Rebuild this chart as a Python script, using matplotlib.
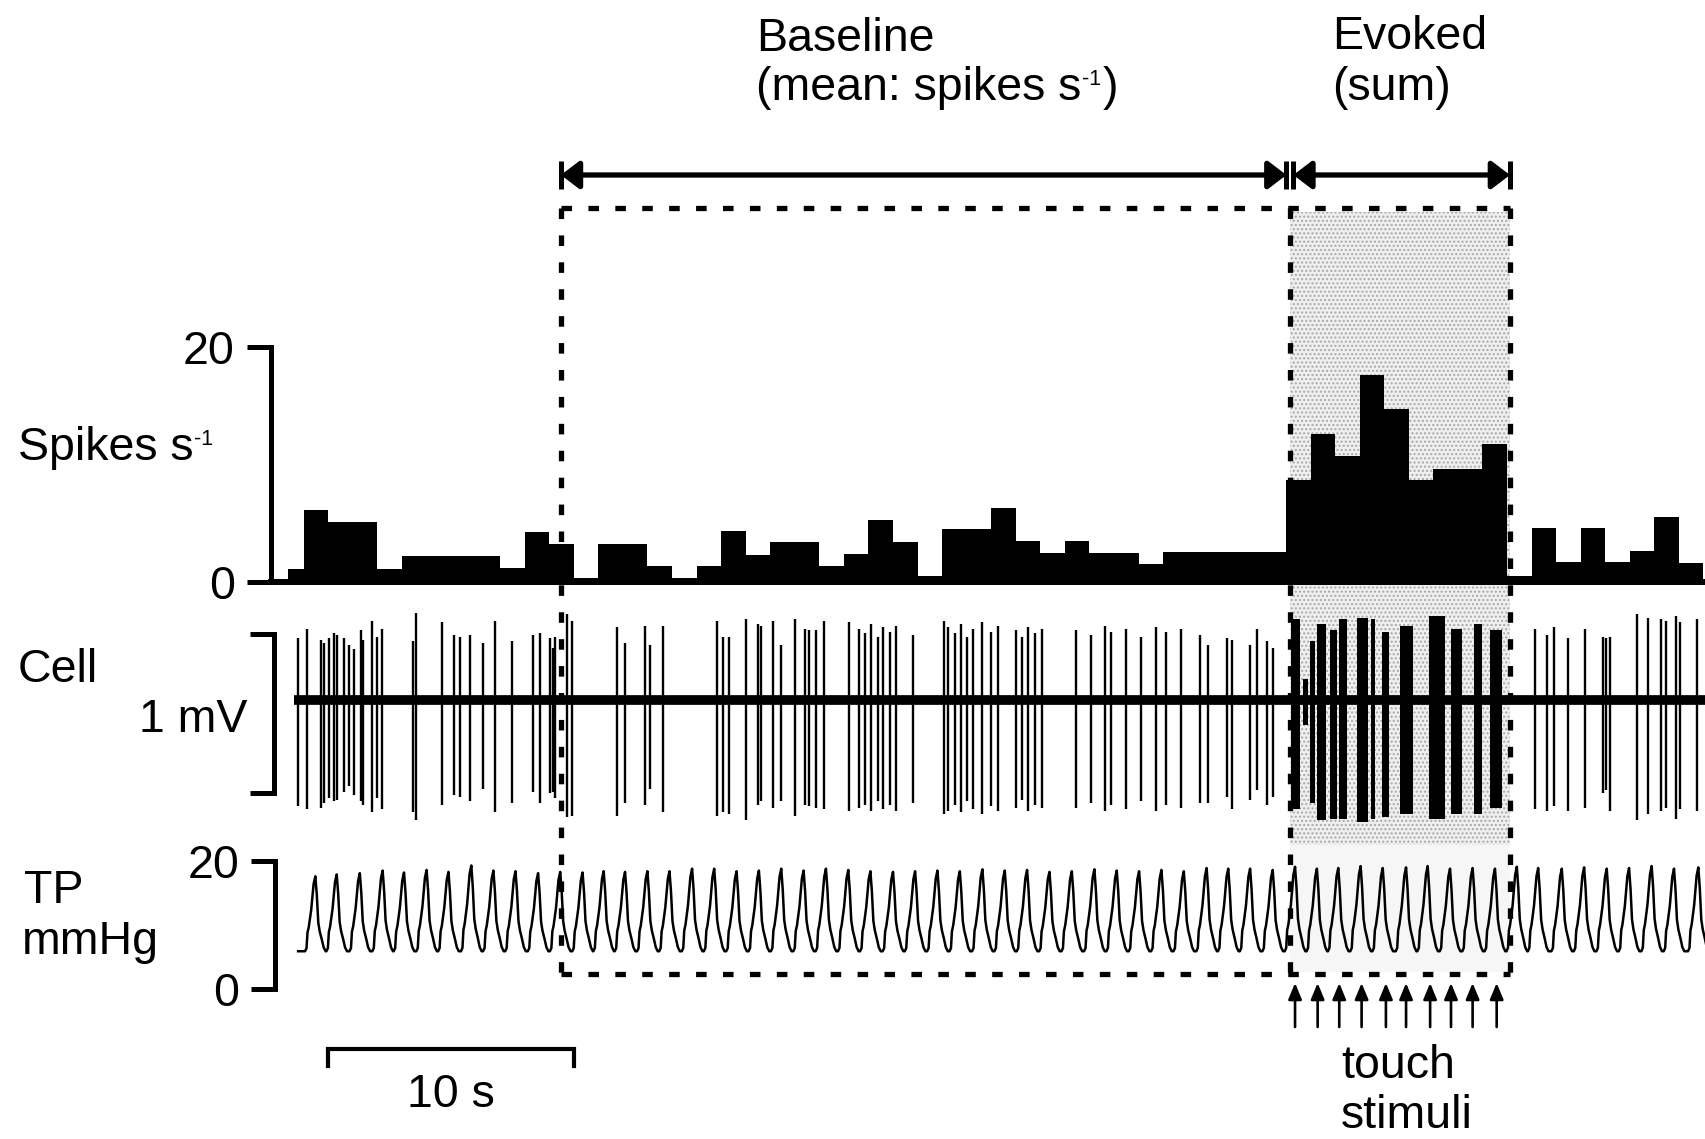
import numpy as np
import matplotlib
matplotlib.use('Agg')
import matplotlib.pyplot as plt

plt.rcParams['font.family'] = ['Liberation Sans', 'DejaVu Sans']
plt.rcParams['hatch.color'] = '#a8a8a8'
plt.rcParams['hatch.linewidth'] = 1.0

# ---------------------------------------------------------------- data
# firing rate, 1 s bins (the first bin starts late, at 0.35 s)
rate_start = 0.35
spike_rate = [1.1, 6.1, 5.05, 5.05, 1.1, 2.2, 2.2, 2.2, 2.2, 1.2,
              4.25, 3.25, 0.35, 3.25, 3.25, 1.3, 0.35, 1.3, 4.3, 2.3,
              3.4, 3.4, 1.35, 2.35, 5.25, 3.4, 0.5, 4.46, 4.46, 6.25,
              3.46, 2.47, 3.46, 2.47, 2.47, 1.48, 2.55, 2.55, 2.55, 2.55,
              2.55, 8.65, 12.6, 10.7, 17.6, 14.7, 8.65, 9.57, 9.57, 11.7,
              0.5, 4.6, 1.65, 4.6, 1.65, 2.6, 5.5, 1.6]

# single units outside the touch bursts (s, mV above / below baseline)
spike_times = [0.79, 1.12, 1.69, 1.84, 2.03, 2.23, 2.38, 2.64, 2.83, 3.04,
               3.34, 3.42, 3.79, 3.98, 4.20, 5.44, 5.59, 6.64, 7.11, 7.35,
               7.76, 8.32, 8.81, 9.48, 10.35, 10.61, 11.04, 11.15, 11.24, 11.73,
               11.91, 13.78, 14.09, 14.91, 15.10, 15.65, 17.83, 18.09, 18.34, 19.00,
               19.50, 19.62, 20.12, 20.45, 20.99, 21.41, 21.60, 21.88, 22.19, 23.20,
               23.62, 23.84, 24.10, 24.37, 24.59, 24.86, 25.12, 25.83, 27.07, 27.25,
               27.51, 27.78, 28.00, 28.27, 28.62, 28.97, 29.28, 29.99, 30.26, 30.48,
               30.79, 31.05, 32.47, 33.05, 33.62, 33.89, 34.47, 35.09, 35.70, 36.10,
               36.72, 37.48, 37.84, 38.59, 38.82, 39.54, 39.83, 40.22, 40.46,
               51.14, 51.62, 51.93, 52.50, 53.18, 53.90, 54.03, 54.19, 55.28, 55.75,
               56.26, 56.46, 56.88, 57.04, 57.72]
spike_peaks = [0.39, 0.45, 0.38, 0.36, 0.39, 0.42, 0.41, 0.39, 0.35, 0.32,
               0.44, 0.38, 0.50, 0.40, 0.45, 0.37, 0.55, 0.49, 0.41, 0.40,
               0.41, 0.36, 0.50, 0.37, 0.41, 0.42, 0.39, 0.33, 0.40, 0.54,
               0.50, 0.46, 0.36, 0.47, 0.35, 0.47, 0.50, 0.40, 0.40, 0.51,
               0.48, 0.47, 0.50, 0.35, 0.51, 0.45, 0.44, 0.44, 0.50, 0.49,
               0.45, 0.42, 0.48, 0.40, 0.46, 0.43, 0.47, 0.41, 0.50, 0.46,
               0.42, 0.48, 0.40, 0.45, 0.49, 0.43, 0.47, 0.44, 0.40, 0.46,
               0.42, 0.45, 0.44, 0.41, 0.47, 0.43, 0.45, 0.40, 0.46, 0.43,
               0.45, 0.41, 0.35, 0.39, 0.38, 0.35, 0.45, 0.37, 0.33,
               0.45, 0.41, 0.46, 0.39, 0.45, 0.40, 0.39, 0.40, 0.54, 0.52,
               0.51, 0.50, 0.53, 0.49, 0.51]
spike_troughs = [-0.67, -0.69, -0.68, -0.65, -0.62, -0.64, -0.63, -0.58, -0.54, -0.60,
                 -0.64, -0.66, -0.71, -0.62, -0.69, -0.71, -0.76, -0.66, -0.60, -0.61,
                 -0.64, -0.56, -0.71, -0.65, -0.58, -0.65, -0.59, -0.58, -0.62, -0.74,
                 -0.73, -0.73, -0.65, -0.66, -0.56, -0.71, -0.73, -0.71, -0.72, -0.76,
                 -0.66, -0.64, -0.68, -0.64, -0.73, -0.66, -0.67, -0.68, -0.69, -0.70,
                 -0.68, -0.66, -0.70, -0.64, -0.69, -0.66, -0.70, -0.65, -0.72, -0.70,
                 -0.66, -0.71, -0.64, -0.69, -0.72, -0.67, -0.70, -0.68, -0.63, -0.70,
                 -0.66, -0.68, -0.68, -0.65, -0.70, -0.66, -0.69, -0.64, -0.70, -0.66,
                 -0.68, -0.65, -0.65, -0.61, -0.69, -0.63, -0.57, -0.66, -0.61,
                 -0.69, -0.70, -0.67, -0.70, -0.68, -0.59, -0.57, -0.70, -0.76, -0.72,
                 -0.70, -0.68, -0.75, -0.69, -0.70]

# unresolved bursts during touch stimulation (s, mV)
burst_starts = [41.20, 41.69, 41.99, 42.27, 42.79, 43.17, 43.88,
                44.45, 44.90, 45.65, 46.82, 47.72, 48.67, 49.30]
burst_ends = [41.58, 41.90, 42.20, 42.61, 43.06, 43.47, 44.36,
              44.63, 45.21, 46.19, 47.48, 48.16, 48.97, 49.81]
burst_peaks = [0.51, 0.13, 0.37, 0.48, 0.44, 0.51, 0.52,
               0.51, 0.43, 0.47, 0.53, 0.45, 0.48, 0.44]
burst_troughs = [-0.69, -0.16, -0.65, -0.76, -0.75, -0.75, -0.77,
                 -0.75, -0.74, -0.72, -0.75, -0.72, -0.72, -0.68]

touch_times = [41.37, 42.29, 43.17, 44.08, 45.07, 45.89, 46.87, 47.72, 48.60, 49.58]

# tracheal pressure, one cycle per peak (mmHg)
tp_peak_times = [1.48, 2.35, 3.29, 4.22, 5.09, 6.01, 6.90, 7.83, 8.73, 9.63,
                 10.55, 11.45, 12.36, 13.22, 14.09, 15.00, 15.90, 16.82, 17.72, 18.63,
                 19.54, 20.45, 21.36, 22.27, 23.18, 24.08, 25.00, 25.90, 26.81, 27.72,
                 28.64, 29.55, 30.46, 31.37, 32.28, 33.20, 34.11, 35.02, 35.93, 36.84,
                 37.77, 38.65, 39.54, 40.46, 41.37, 42.26, 43.13, 44.04, 44.94, 45.89,
                 46.77, 47.68, 48.60, 49.51, 50.40, 51.27, 52.23, 53.14, 54.06, 54.97,
                 55.89, 56.80, 57.79]
tp_peak_values = [17.6, 17.9, 18.1, 18.5, 18.2, 18.6, 18.3, 19.3, 18.5, 18.4,
                  18.1, 18.3, 18.2, 18.4, 18.3, 18.4, 18.4, 18.8, 18.8, 18.4,
                  18.5, 18.8, 18.5, 18.8, 18.6, 18.4, 18.3, 18.4, 18.5, 18.4,
                  18.7, 18.5, 18.6, 18.3, 18.4, 18.7, 18.5, 18.4, 18.6, 18.4,
                  18.9, 18.8, 18.8, 18.6, 19.1, 18.8, 18.9, 19.2, 18.9, 19.0,
                  19.2, 18.8, 18.9, 18.8, 19.1, 18.9, 18.8, 19.0, 18.8, 18.9,
                  19.2, 18.8, 19.0]
tp_trough = 5.9
# shape of one ventilation cycle around its peak (s, fraction of peak-trough)
tp_shape_t = [-0.42, -0.36, -0.32, -0.27, -0.17, -0.07, 0.0, 0.06, 0.12, 0.18, 0.26, 0.34, 0.42]
tp_shape_v = [0.0, 0.04, 0.25, 0.32, 0.55, 0.90, 1.0, 0.75, 0.38, 0.26, 0.16, 0.05, 0.0]

trace_start = 0.6
baseline_window = (11.48, 41.16)
evoked_window = (41.16, 50.12)
scale_bar = (2.0, 12.0)

# ---------------------------------------------------------------- layout
W, H, DPI = 1705, 1139, 100
X0_PX, PX_PER_S = 279, 24.56          # pixel of t = 0, pixels per second
AX_LEFT = 271
T_MIN = (AX_LEFT - X0_PX) / PX_PER_S
T_MAX = (W - X0_PX) / PX_PER_S
FS = 33.5
FS_SUP = 15.5

fig = plt.figure(figsize=(W / DPI, H / DPI), dpi=DPI)


def band_axes(top, bottom):
    return fig.add_axes([AX_LEFT / W, 1 - bottom / H,
                         (W - AX_LEFT) / W, (bottom - top) / H])


def label(x, y, s, **kw):
    return fig.text(x / W, 1 - y / H, s, fontsize=FS, va='baseline', **kw)


# background layer, time on x and figure pixels on y
bg = fig.add_axes([0, 0, 1, 1], zorder=-1)
bg.set_xlim(-X0_PX / PX_PER_S, T_MAX)
bg.set_ylim(H, 0)
bg.axis('off')
e0, e1 = evoked_window
bg.fill_between([e0, e1], 212, 845, facecolor='#efefef',
                edgecolor='none', hatch='....', lw=0)
bg.fill_between([e0, e1], 845, 972, facecolor='#f6f6f6',
                edgecolor='none', lw=0)

# spike rate histogram
ax_h = band_axes(300, 600)
ax_h.set_ylim((581.7 - 600) / 11.75, (581.7 - 300) / 11.75)
edges = np.r_[rate_start, np.arange(1, len(spike_rate) + 1)]
ax_h.stairs(spike_rate, edges, fill=True, color='k', lw=0)
ax_h.set_yticks([0, 20])
ax_h.spines['left'].set_bounds(0, 20)
ax_h.spines['bottom'].set_position(('data', 0))
ax_h.spines['bottom'].set_linewidth(4.3)

# extracellular recording
ax_c = band_axes(600, 840)
ax_c.set_ylim(-140 / 158.4, 100 / 158.4)
ax_c.plot([trace_start, T_MAX], [0, 0], color='k', lw=7, solid_capstyle='butt')
ax_c.vlines(spike_times, spike_troughs, spike_peaks, color='k', lw=1.7)
b_start = np.array(burst_starts)
b_peak = np.array(burst_peaks)
b_trough = np.array(burst_troughs)
ax_c.bar(b_start, b_peak - b_trough, width=np.array(burst_ends) - b_start,
         bottom=b_trough, align='edge', color='k', lw=0)
ax_c.set_yticks([-0.585, 0.415])
ax_c.set_yticklabels([])
ax_c.spines['left'].set_bounds(-0.585, 0.415)
ax_c.spines['left'].set_position(('outward', -2))

# tracheal pressure
ax_t = band_axes(850, 1010)
ax_t.set_ylim(-21 / 6.4, 139 / 6.4)
tp_t, tp_v = [trace_start + 0.18], [tp_trough]
for pk_t, pk_v in zip(tp_peak_times, tp_peak_values):
    tp_t.extend(pk_t + np.array(tp_shape_t))
    tp_v.extend(tp_trough + np.array(tp_shape_v) * (pk_v - tp_trough))
ax_t.plot(tp_t, tp_v, color='k', lw=1.8)
ax_t.set_yticks([0, 20])
ax_t.spines['left'].set_bounds(0, 20)
ax_t.spines['left'].set_position(('outward', -3))

for ax in (ax_h, ax_c, ax_t):
    ax.set_xlim(T_MIN, T_MAX)
    ax.set_facecolor('none')
    for side in ('top', 'right'):
        ax.spines[side].set_visible(False)
    ax.spines['left'].set_linewidth(3.6)
    ax.set_xticks([])
    ax.tick_params(axis='y', length=17, width=3.6, pad=9, labelsize=FS)
ax_c.spines['bottom'].set_visible(False)
ax_t.spines['bottom'].set_visible(False)

# front layer: analysis windows, stimulus marks, scale bar
ov = fig.add_axes([0, 0, 1, 1], zorder=10)
ov.set_xlim(-X0_PX / PX_PER_S, T_MAX)
ov.set_ylim(H, 0)
ov.axis('off')

b0, b1 = baseline_window
dash = dict(color='k', lw=3.8, ls=(0, (2.0, 3.1)))
box_top, box_bottom = 208, 974
ov.plot([b0, e1], [box_top, box_top], **dash)
ov.plot([b0, e1], [box_bottom, box_bottom], **dash)
for x in (b0, b1, e1):
    ov.plot([x, x], [box_top, box_bottom], **dash)

gap = 3.5 / PX_PER_S
arrow_y = 175
for a, b in [(b0, b1 - gap), (e0 + gap, e1)]:
    ov.annotate('', xy=(b, arrow_y), xytext=(a, arrow_y),
                arrowprops=dict(arrowstyle='<|-|>,head_length=0.55,head_width=0.42',
                                mutation_scale=20, lw=3.8, color='k',
                                shrinkA=0, shrinkB=0))
    for x in (a, b):
        ov.plot([x, x], [161, 189], color='k', lw=3.6, solid_capstyle='butt')

for t in touch_times:
    ov.annotate('', xy=(t, 983), xytext=(t, 1027),
                arrowprops=dict(arrowstyle='-|>,head_length=0.65,head_width=0.27',
                                mutation_scale=15, lw=1.9, color='k',
                                shrinkA=0, shrinkB=0))

s0, s1 = scale_bar
ov.plot([s0, s0, s1, s1], [1066, 1049, 1049, 1066], color='k', lw=3,
        solid_joinstyle='miter')
ov.text((s0 + s1) / 2, 1107, '10 s', fontsize=FS, ha='center', va='baseline')


def add_superscript(base, sup, tail=''):
    # small raised text after base, then the rest of the line on base's baseline
    s = ov.annotate(sup, xy=(1, 1), xycoords=base, xytext=(0.5, -2.5),
                    textcoords='offset points', fontsize=FS_SUP,
                    ha='left', va='top')
    if tail:
        ov.annotate(tail, xy=(1, 0), xycoords=(s, base), xytext=(1, 0),
                    textcoords='offset points', fontsize=FS,
                    ha='left', va='bottom')


label(756, 51, 'Baseline')
add_superscript(label(756, 100, '(mean: spikes s'), '-1', ')')
label(1332, 49, 'Evoked')
label(1332, 100, '(sum)')
add_superscript(label(18, 460, 'Spikes s'), '-1')
label(18, 682, 'Cell')
label(139, 732, '1 mV')
label(24, 903, 'TP')
label(22, 954, 'mmHg')
label(1341, 1078, 'touch')
label(1341, 1128, 'stimuli')

fig.savefig('out.png', dpi=DPI, facecolor='white')
